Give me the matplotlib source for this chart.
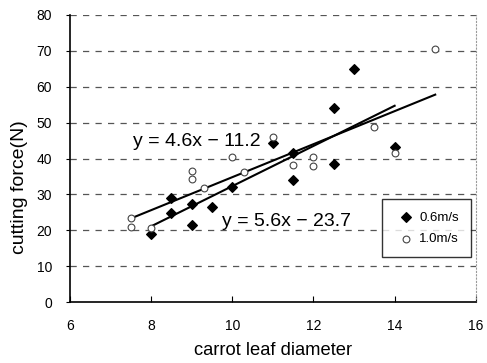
import numpy as np
import matplotlib
matplotlib.use("Agg")
import matplotlib.pyplot as plt

plt.rcParams['font.family'] = ['Liberation Sans', 'DejaVu Sans']

# 0.6 m/s series (filled diamonds)
x_06 = [8, 8.5, 8.5, 9, 9, 9.5, 10, 11, 11.5, 11.5, 12.5, 12.5, 13, 14]
y_06 = [19, 24.7, 29, 21.6, 27.2, 26.5, 32, 44.3, 34, 41.6, 38.4, 54, 65, 43.3]

# 1.0 m/s series (open circles)
x_10 = [7.5, 7.5, 8, 9, 9, 9.3, 10, 10.3, 11, 11.5, 12, 12, 13.5, 14, 15]
y_10 = [21, 23.3, 20.5, 34.3, 36.5, 31.7, 40.5, 36.3, 46, 38.2, 37.8, 40.5, 48.8, 41.4, 70.5]

# regression lines as printed on the chart
fit_10 = (4.6, -11.2)
fit_06 = (5.6, -23.7)
eq_10 = "y = 4.6x \u2212 11.2"
eq_06 = "y = 5.6x \u2212 23.7"

x_ticks = [6, 8, 10, 12, 14, 16]
y_ticks = [0, 10, 20, 30, 40, 50, 60, 70, 80]

fig = plt.figure(figsize=(4.87, 3.63), dpi=100)
ax = fig.add_axes([0.1437, 0.168, 0.8333, 0.7907])

for y in y_ticks[1:]:
    ax.axhline(y, color='#555555', lw=0.9, ls=(0, (5, 5)), zorder=0)

# fit lines over each series' x range
xs = np.array([min(x_10), max(x_10)])
ax.plot(xs, fit_10[0] * xs + fit_10[1], color='black', lw=1.5, zorder=2)
xs = np.array([min(x_06), max(x_06)])
ax.plot(xs, fit_06[0] * xs + fit_06[1], color='black', lw=1.5, zorder=2)

ax.scatter(x_06, y_06, marker='D', s=24, color='black', zorder=3, label='0.6m/s')
ax.scatter(x_10, y_10, marker='o', s=24, facecolor='white', edgecolor='#444444',
           linewidths=0.8, zorder=3, label='1.0m/s')

ax.text(7.55, 44.8, eq_10, fontsize=14, va='center', ha='left')
ax.text(9.75, 22.4, eq_06, fontsize=14, va='center', ha='left')

ax.set_xlim(6, 16)
ax.set_ylim(0, 80)
ax.set_xticks(x_ticks)
ax.set_yticks(y_ticks)
ax.tick_params(axis='x', direction='in', length=4, labelsize=10, pad=12)
ax.tick_params(axis='y', direction='out', length=3, labelsize=10, pad=10)

ax.spines['top'].set_visible(False)
ax.spines['right'].set_color('#999999')
ax.spines['right'].set_linestyle((0, (1, 2)))
ax.spines['left'].set_linewidth(1.2)
ax.spines['bottom'].set_linewidth(1.2)

ax.set_xlabel("carrot leaf diameter", fontsize=13.2, labelpad=7)
ax.set_ylabel("cutting force(N)", fontsize=14)
ax.yaxis.set_label_coords(-0.103, 0.4)

leg = ax.legend(loc='lower right', bbox_to_anchor=(0.988, 0.157), borderaxespad=0,
                fontsize=9.5, frameon=True, fancybox=False, edgecolor='black',
                handletextpad=0.1, handlelength=1.8, borderpad=0.9, labelspacing=0.7)
leg.get_frame().set_linewidth(1.0)

fig.savefig("out.png", dpi=100)
